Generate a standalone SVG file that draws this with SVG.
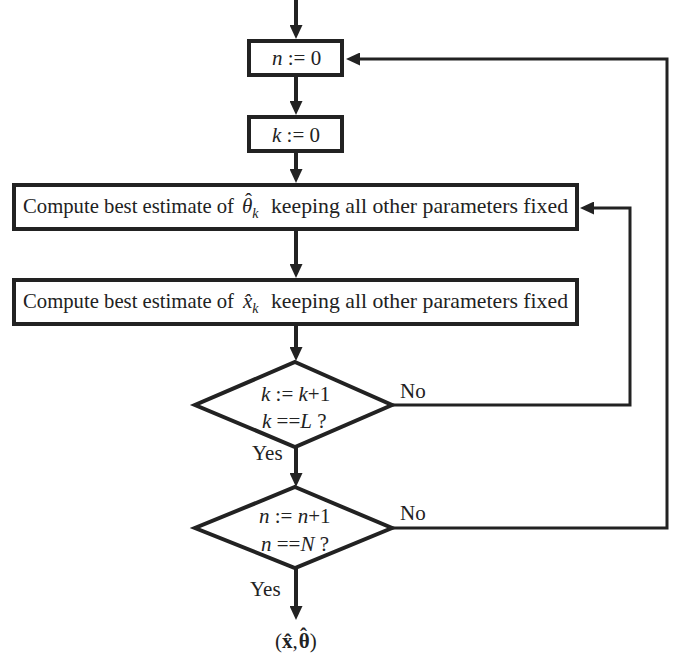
<svg xmlns="http://www.w3.org/2000/svg" width="682" height="653" viewBox="0 0 682 653">
  <style>
    .box { fill: #ffffff; stroke: #222222; stroke-width: 4; }
    .flow { fill: none; stroke: #222222; stroke-width: 4; }
    .loop { fill: none; stroke: #222222; stroke-width: 3; stroke-linejoin: miter; }
    text { font-family: "Liberation Serif", "Times New Roman", serif; font-size: 21px; fill: #222222; }
    .it { font-style: italic; }
    .sub { font-style: italic; font-size: 14px; }
    .bf { font-weight: bold; }
  </style>
  <defs>
    <marker id="head" viewBox="0 0 14 13" markerWidth="14" markerHeight="13" refX="4" refY="6.5" orient="auto" markerUnits="userSpaceOnUse">
      <path d="M0,0 L14,6.5 L0,13 z" fill="#222222"/>
    </marker>
  </defs>

  <!-- connectors -->
  <g id="connectors">
    <line class="flow" x1="296" y1="0" x2="296" y2="29" marker-end="url(#head)"/>
    <line class="flow" x1="296" y1="77" x2="296" y2="105" marker-end="url(#head)"/>
    <line class="flow" x1="296" y1="153" x2="296" y2="173" marker-end="url(#head)"/>
    <line class="flow" x1="296" y1="231" x2="296" y2="268" marker-end="url(#head)"/>
    <line class="flow" x1="296" y1="326" x2="296" y2="351" marker-end="url(#head)"/>
    <line class="flow" x1="296" y1="447" x2="296" y2="477" marker-end="url(#head)"/>
    <line class="flow" x1="296" y1="568" x2="296" y2="610" marker-end="url(#head)"/>
    <!-- inner loop: k != L back to theta update -->
    <polyline class="loop" points="392,405 630,405 630,208 590,208" marker-end="url(#head)"/>
    <!-- outer loop: n != N back to k reset -->
    <polyline class="loop" points="392,528 667,528 667,59 356,59" marker-end="url(#head)"/>
  </g>

  <g id="init-n">
    <rect class="box" x="249" y="41" width="93" height="34"/>
    <text x="272" y="65"><tspan class="it">n</tspan> := 0</text>
  </g>

  <g id="init-k">
    <rect class="box" x="249" y="117" width="93" height="34"/>
    <text x="272" y="142"><tspan class="it">k</tspan> := 0</text>
  </g>

  <g id="estimate-theta">
    <rect class="box" x="14" y="185" width="563" height="44"/>
    <text x="23" y="213" textLength="211" lengthAdjust="spacingAndGlyphs">Compute best estimate of</text>
    <text class="it" x="242" y="213">θ<tspan class="sub" dy="5">k</tspan></text>
    <!-- circumflex raised above the tall theta -->
    <text x="245" y="208">ˆ</text>
    <text x="271" y="213" textLength="297" lengthAdjust="spacingAndGlyphs">keeping all other parameters fixed</text>
  </g>

  <g id="estimate-x">
    <rect class="box" x="14" y="280" width="563" height="44"/>
    <text x="23" y="308" textLength="211" lengthAdjust="spacingAndGlyphs">Compute best estimate of</text>
    <text class="it" x="243" y="308">x̂<tspan class="sub" dy="5">k</tspan></text>
    <text x="271" y="308" textLength="297" lengthAdjust="spacingAndGlyphs">keeping all other parameters fixed</text>
  </g>

  <g id="test-k">
    <polygon class="box" points="295,362 392,405 295,447 195,405"/>
    <text x="261" y="401"><tspan class="it">k</tspan> := <tspan class="it">k</tspan>+1</text>
    <text x="262" y="428"><tspan class="it">k</tspan> ==<tspan class="it">L</tspan> ?</text>
    <text x="400" y="398">No</text>
    <text x="252" y="460">Yes</text>
  </g>

  <g id="test-n">
    <polygon class="box" points="295,487 392,528 295,568 195,528"/>
    <text x="259" y="523"><tspan class="it">n</tspan> := <tspan class="it">n</tspan>+1</text>
    <text x="261" y="551"><tspan class="it">n</tspan> ==<tspan class="it">N</tspan> ?</text>
    <text x="400" y="520">No</text>
    <text x="250" y="596">Yes</text>
  </g>

  <g id="result">
    <text x="275" y="648">(<tspan class="bf">x̂</tspan>,<tspan class="bf" dx="1">θ</tspan>)</text>
    <text class="bf" x="300" y="643">ˆ</text>
  </g>
</svg>
